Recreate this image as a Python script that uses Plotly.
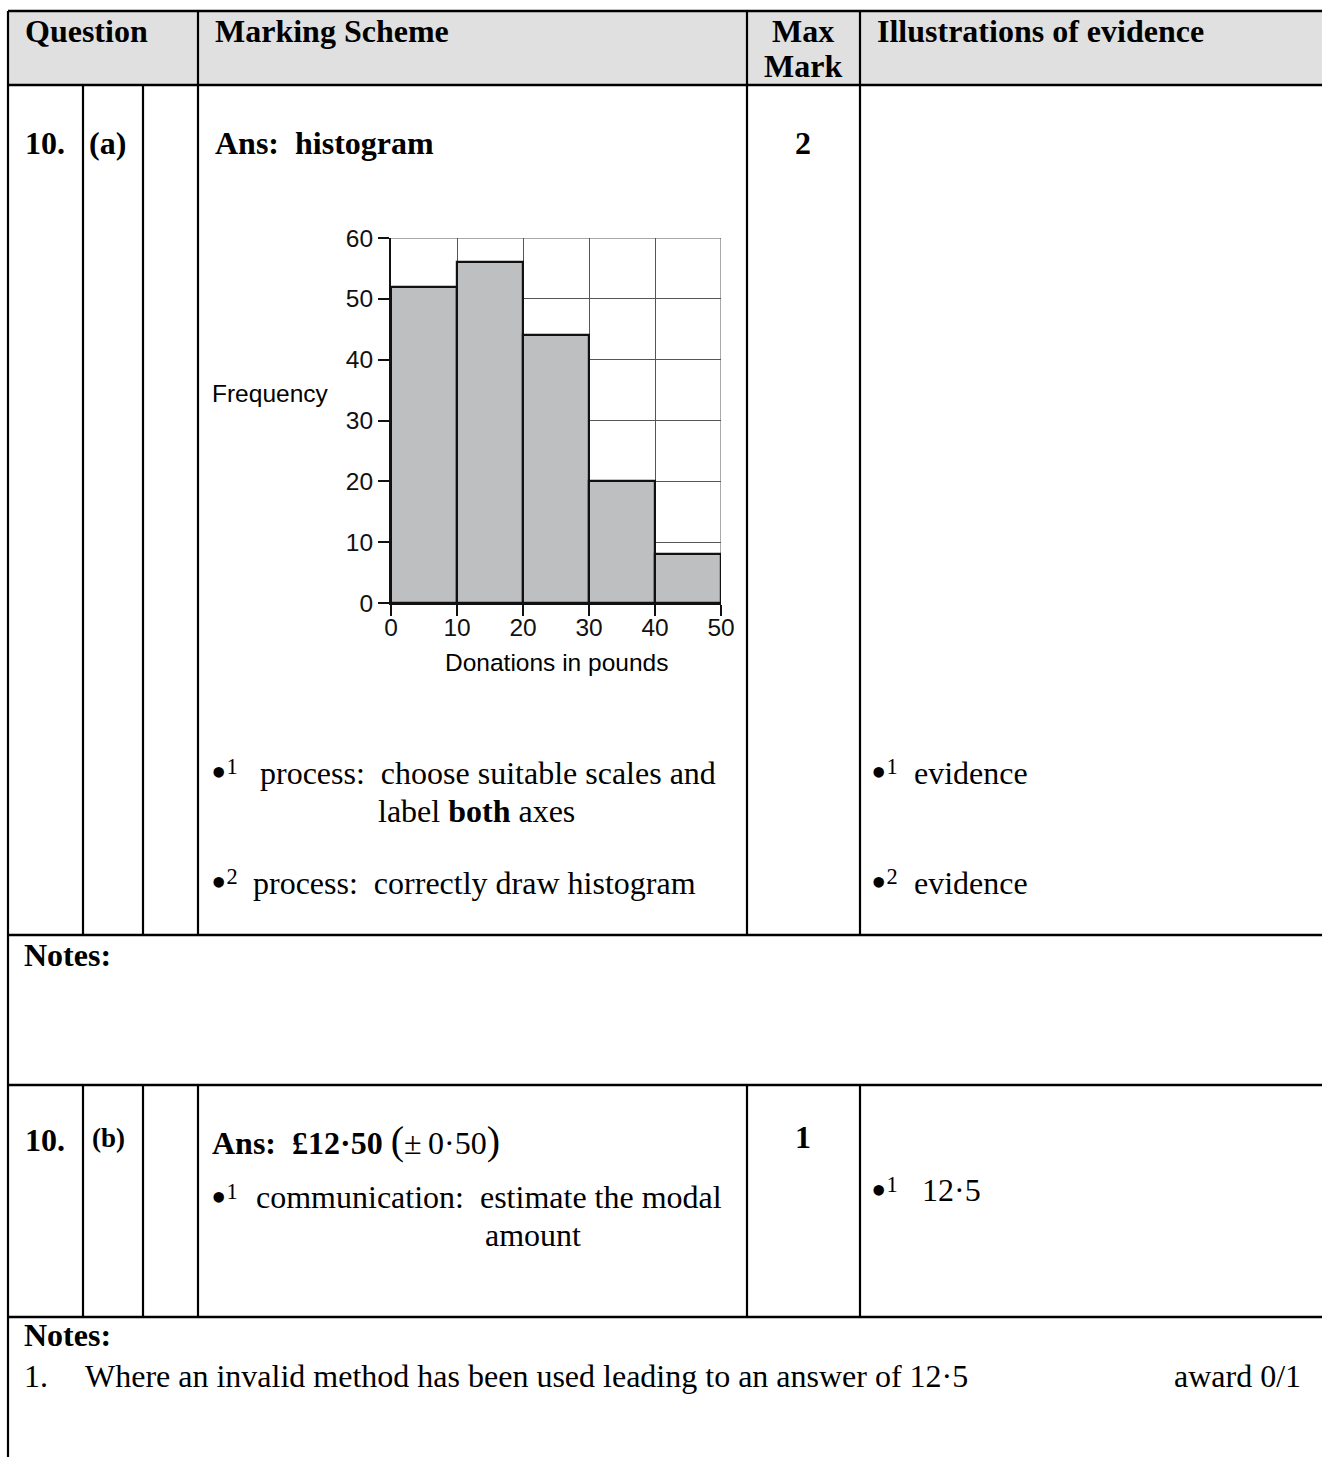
import plotly.graph_objects as go

# ---------------- data ----------------
bin_left = [0, 10, 20, 30, 40]
bin_width = [10, 10, 10, 10, 10]
frequency = [52, 56, 44, 20, 8]
x_ticks = [0, 10, 20, 30, 40, 50]
y_ticks = [0, 10, 20, 30, 40, 50, 60]
x_title = "Donations in pounds"
y_title = "Frequency"

W, H = 1322, 1457


def px(x):
    return x / W


def py(y):
    return 1 - y / H


SERIF = "Liberation Serif, Times New Roman, serif"
SANS = "Liberation Sans, Arial, sans-serif"
FS = 32
SFS = 24.5
NB = "\u00a0"

fig = go.Figure()
fig.add_trace(go.Bar(
    x=bin_left, y=frequency, width=bin_width, offset=0,
    marker=dict(color="#bebfc1", line=dict(color="#111111", width=2.2)),
    hoverinfo="skip", showlegend=False,
))

fig.update_layout(
    width=W, height=H,
    margin=dict(l=0, r=0, t=0, b=0, autoexpand=False),
    paper_bgcolor="white", plot_bgcolor="white",
    bargap=0,
    xaxis=dict(
        domain=[px(391), px(721)], range=[x_ticks[0], x_ticks[-1]],
        tickvals=x_ticks, ticks="outside", ticklen=11, tickwidth=1.5, tickcolor="#111",
        showgrid=True, gridcolor="#555555", gridwidth=1,
        zeroline=False, showline=True, linecolor="#111", linewidth=2,
        tickfont=dict(family=SANS, size=SFS, color="#111"),
        ticklabelstandoff=-9, automargin=False,
        fixedrange=True,
    ),
    yaxis=dict(
        domain=[py(603), py(238)], range=[y_ticks[0], y_ticks[-1]],
        tickvals=y_ticks, ticks="outside", ticklen=11, tickwidth=1.5, tickcolor="#111",
        showgrid=True, gridcolor="#555555", gridwidth=1,
        zeroline=False, showline=True, linecolor="#111", linewidth=2,
        tickfont=dict(family=SANS, size=SFS, color="#111"),
        automargin=False,
        fixedrange=True,
    ),
)

shapes = []
# header fill
shapes.append(dict(type="rect", xref="paper", yref="paper",
                   x0=px(8), x1=px(1322), y0=py(85), y1=py(11),
                   fillcolor="#e0e0e0", line=dict(width=0), layer="below"))
# outer grid lines of the chart at the last ticks (plotly clips edge gridlines)
shapes.append(dict(type="line", xref="x", yref="y", layer="below",
                   x0=x_ticks[0], x1=x_ticks[-1], y0=y_ticks[-1], y1=y_ticks[-1],
                   line=dict(color="#555555", width=1)))
shapes.append(dict(type="line", xref="x", yref="y", layer="below",
                   x0=x_ticks[-1], x1=x_ticks[-1], y0=y_ticks[0], y1=y_ticks[-1],
                   line=dict(color="#555555", width=1)))


def hline(x0, x1, y, w=2.6):
    shapes.append(dict(type="line", xref="paper", yref="paper",
                       x0=px(x0), x1=px(x1), y0=py(y), y1=py(y),
                       line=dict(color="black", width=w)))


def vline(x, y0, y1, w=2.2):
    shapes.append(dict(type="line", xref="paper", yref="paper",
                       x0=px(x), x1=px(x), y0=py(y0), y1=py(y1),
                       line=dict(color="black", width=w)))


for y in [11, 85, 935, 1085, 1317]:
    hline(8, 1322, y)
vline(8, 11, 1457)
vline(198, 11, 935)
vline(747, 11, 935)
vline(860, 11, 935)
vline(83, 85, 935)
vline(143, 85, 935)
for x in [83, 143, 198, 747, 860]:
    vline(x, 1085, 1317)

fig.update_layout(shapes=shapes)

ann = []


def text(x, y, s, size=FS, anchor="left", family=SERIF):
    ann.append(dict(x=px(x), y=py(y), xref="paper", yref="paper",
                    text=s, showarrow=False, xanchor=anchor, yanchor="middle",
                    font=dict(family=family, size=size, color="black")))


BUL = "<span style='font-size:44px'>•</span>"
LP = "<span style='font-size:40px'>(</span>"
RP = "<span style='font-size:40px'>)</span>"

text(23, 31, "<b>Question</b>")
text(213, 31, "<b>Marking Scheme</b>")
text(803, 31, "<b>Max</b>", anchor="center")
text(803, 66, "<b>Mark</b>", anchor="center")
text(875, 31, "<b>Illustrations of evidence</b>")

text(23, 143, "<b>10.</b>")
text(87, 143, "<b>(a)</b>")
text(213, 143, "<b>Ans:" + NB + NB + "histogram</b>")
text(803, 143, "<b>2</b>", anchor="center")

text(210, 393, y_title, size=SFS, family=SANS)
text(556, 662, x_title, size=SFS, anchor="center", family=SANS)

text(209, 773, BUL + "<sup>1</sup>")
text(258, 773, "process:" + NB + NB + "choose suitable scales and")
text(376, 811, "label <b>both</b> axes")
text(209, 883, BUL + "<sup>2</sup>")
text(251, 883, "process:" + NB + NB + "correctly draw histogram")
text(869, 773, BUL + "<sup>1</sup>")
text(912, 773, "evidence")
text(869, 883, BUL + "<sup>2</sup>")
text(912, 883, "evidence")

text(22, 955, "<b>Notes:</b>")

text(23, 1140, "<b>10.</b>")
text(90, 1138, "<b>(b)</b>", size=27)
text(210, 1140, "<b>Ans:" + NB + NB + "£12·50</b> " + LP + "±\u20090·50" + RP)
text(803, 1137, "<b>1</b>", anchor="center")
text(209, 1197, BUL + "<sup>1</sup>")
text(254, 1197, "communication:" + NB + NB + "estimate the modal")
text(483, 1235, "amount")
text(869, 1190, BUL + "<sup>1</sup>")
text(920, 1190, "12·5")

text(22, 1335, "<b>Notes:</b>")
text(22, 1376, "1.")
text(83, 1376, "Where an invalid method has been used leading to an answer of 12·5")
text(1172, 1376, "award 0/1")

fig.update_layout(annotations=ann)

fig.write_html("out.html", config={"displayModeBar": False},
               post_script="document.body.style.margin='0px';document.body.style.overflow='hidden';")
